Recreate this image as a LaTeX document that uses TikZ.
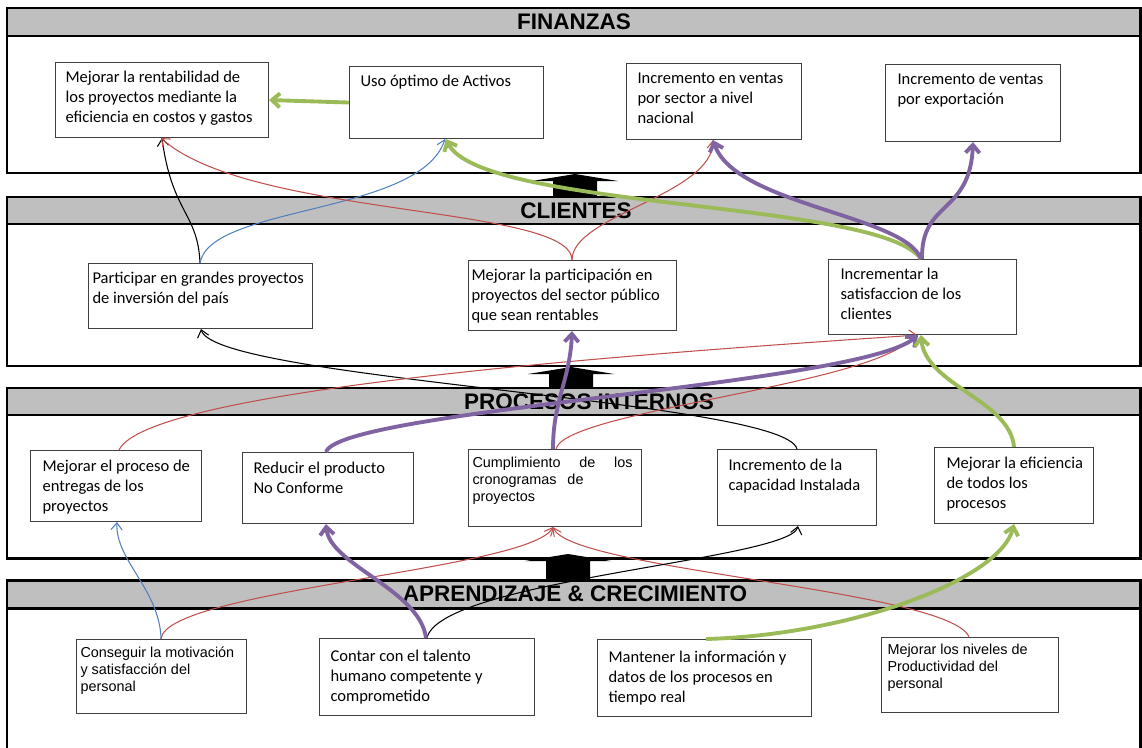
\documentclass[tikz,border=0pt]{standalone}
\usepackage{fontspec}
\setmainfont{Carlito}
\newfontfamily\arialf{Liberation Sans}
\usetikzlibrary{arrows.meta}

\newdimen\pxu
\pxu=0.02cm
% text block in the upper left corner of an objective box
\newcommand{\objtext}[3]{\parbox[t][#2\pxu][t]{#1\pxu}{\begin{tabular}[t]{@{}l@{}}#3\end{tabular}}}

\definecolor{headgray}{HTML}{BFBFBF}
\definecolor{boxline}{HTML}{404040}
\definecolor{linkred}{HTML}{C0504D}
\definecolor{linkblue}{HTML}{4F81BD}
\definecolor{linkpurple}{HTML}{8064A2}
\definecolor{linkgreen}{HTML}{9BBB59}

\tikzset{
    band/.style={line width=1.7pt},
    bandtitle/.style={font=\arialf\bfseries\fontsize{12.8}{15}\selectfont},
    obj/.style={draw=boxline, line width=0.6pt, fill=white, anchor=north west,
        inner xsep=11\pxu, inner ysep=6\pxu, font=\fontsize{9.4}{11.4}\selectfont},
    objarial/.style={obj, font=\arialf\fontsize{8.2}{9.6}\selectfont},
    thinlink/.style={line width=0.6pt, -{Straight Barb[length=4pt,width=6.5pt]}},
    thicklink/.style={line width=2.2pt, -{Straight Barb[length=4.5pt,width=8pt]}},
    redlink/.style={thinlink, draw=linkred},
    bluelink/.style={thinlink, draw=linkblue},
    blacklink/.style={thinlink, draw=black},
    purplelink/.style={thicklink, draw=linkpurple},
    greenlink/.style={thicklink, draw=linkgreen}
}

\begin{document}
\begin{tikzpicture}[x=0.02cm, y=-0.02cm]
    \useasboundingbox (0,0) rectangle (1142,747);

    % perspectives
    \foreach \ytop/\yhead/\ybot/\xc/\bandname [count=\i] in
        {8/36/173/574/FINANZAS, 197/224/366/576/CLIENTES,
         388/415/558/589/PROCESOS INTERNOS, 580/608/760/575/APRENDIZAJE \& CRECIMIENTO} {
        \fill[headgray] (7,\ytop) rectangle (1140,\yhead);
        \draw[band] (7,\ytop) rectangle (1140,\ybot);
        \draw[band] (7,\yhead) -- (1140,\yhead);
        \node[bandtitle] (titulo\i) at (\xc,{(\ytop+\yhead)/2}) {\bandname};
    }

    % block arrows between the perspectives
    \foreach \xc/\ytip/\ybot in {575/174/197, 571/367/388, 568/554/580} {
        \fill (\xc-22,\ybot) -- (\xc-22,\ytip+7) -- (\xc-43,\ytip+7) -- (\xc,\ytip)
            -- (\xc+43,\ytip+7) -- (\xc+22,\ytip+7) -- (\xc+22,\ybot) -- cycle;
    }

    % finanzas
    \node[obj, inner xsep=10\pxu] (rentabilidad) at (55,62) {\objtext{193}{63}{Mejorar la rentabilidad de\\los proyectos mediante la\\eficiencia en costos y gastos}};
    \node[obj] (activos) at (349,66) {\objtext{172}{60}{Uso óptimo de Activos}};
    \node[obj] (ventasnac) at (626,63) {\objtext{153}{64}{Incremento en ventas\\por sector a nivel\\nacional}};
    \node[obj, inner xsep=12\pxu] (exportacion) at (885,64) {\objtext{151}{65}{Incremento de ventas\\por exportación}};

    % clientes
    \node[obj, inner xsep=4\pxu] (grandes) at (88,263) {\objtext{216}{53}{Participar en grandes proyectos\\de inversión del país}};
    \node[obj, inner xsep=3\pxu] (publico) at (468,260) {\objtext{202}{58}{Mejorar la participación en\\proyectos del sector público\\que sean rentables}};
    \node[obj, inner xsep=12\pxu] (satisfaccion) at (828,259) {\objtext{164}{63}{Incrementar la\\satisfaccion de los\\clientes}};

    % procesos internos
    \node[obj, inner xsep=12\pxu, inner ysep=7\pxu] (entregas) at (30,450) {\objtext{147}{57}{Mejorar el proceso de\\entregas de los\\proyectos}};
    \node[obj, inner ysep=7\pxu] (noconforme) at (242,452) {\objtext{149}{57}{Reducir el producto\\No Conforme}};
    \node[objarial, inner xsep=4\pxu] (cronogramas) at (468,449) {\objtext{165}{65}{\makebox[160\pxu][s]{Cumplimiento de los}\\\makebox[111\pxu][s]{cronogramas de}\\proyectos}};
    \node[obj, inner ysep=7\pxu] (capacidad) at (717,449) {\objtext{137}{62}{Incremento de la\\capacidad Instalada}};
    \node[obj, inner xsep=12\pxu, inner ysep=7\pxu] (eficiencia) at (934,447) {\objtext{135}{62}{Mejorar la eficiencia\\de todos los\\procesos}};

    % aprendizaje y crecimiento
    \node[objarial, inner xsep=4\pxu] (motivacion) at (76,639) {\objtext{162}{62}{Conseguir la motivación\\y satisfacción del\\personal}};
    \node[obj, inner ysep=9\pxu] (talento) at (319,638) {\objtext{193}{59}{Contar con el talento\\humano competente y\\comprometido}};
    \node[obj, inner ysep=9\pxu] (informacion) at (597,639) {\objtext{192}{59}{Mantener la información y\\datos de los procesos en\\tiempo real}};
    \node[objarial, inner xsep=6\pxu, inner ysep=5\pxu] (productividad) at (881,637) {\objtext{165}{65}{Mejorar los niveles de\\Productividad del\\personal}};

    % links inside finanzas
    \draw[greenlink] (activos.west) -- (rentabilidad.east);

    % clientes -> finanzas
    \draw[blacklink] (grandes.north -| 200,0) .. controls (198,213) and (172,213) .. (rentabilidad.south -| 162,0);
    \draw[bluelink] (grandes.north -| 200,0) .. controls (210,205) and (420,215) .. (activos.south -| 445,0);
    \draw[redlink] (publico.north -| 572,0) .. controls (572,205) and (250,218) .. (rentabilidad.south -| 161,0);
    \draw[redlink] (publico.north -| 572,0) .. controls (572,215) and (713,195) .. (ventasnac.south -| 713,0);
    \draw[greenlink] (satisfaccion.north -| 921,0) .. controls (880,200) and (480,210) .. (activos.south -| 446,0);
    \draw[purplelink] (satisfaccion.north -| 921,0) .. controls (905,215) and (735,205) .. (ventasnac.south -| 713,0);
    \draw[purplelink] (satisfaccion.north -| 922,0) .. controls (921,200) and (970,215) .. (exportacion.south -| 973,0);

    % procesos -> clientes
    \draw[blacklink] (capacidad.north -| 797,0) .. controls (785,400) and (215,380) .. (grandes.south -| 201,0);
    \draw[redlink] (entregas.north -| 119,0) .. controls (150,385) and (700,350) .. (satisfaccion.south -| 917,0);
    \draw[redlink] (cronogramas.north -| 556,0) .. controls (565,410) and (880,385) .. (satisfaccion.south -| 914,0);
    \draw[purplelink] (noconforme.north -| 326,0) .. controls (340,410) and (860,385) .. (satisfaccion.south -| 918,0);
    \draw[purplelink] (cronogramas.north -| 553,0) .. controls (553,400) and (570,380) .. (publico.south -| 572,0);
    \draw[greenlink] (eficiencia.north -| 1014,0) .. controls (1010,400) and (925,385) .. (satisfaccion.south -| 921,0);

    % aprendizaje -> procesos
    \draw[bluelink] (motivacion.north -| 161,0) .. controls (160,590) and (115,560) .. (entregas.south -| 117,0);
    \draw[redlink] (motivacion.north -| 161,0) .. controls (165,590) and (530,570) .. (cronogramas.south -| 553,0);
    \draw[redlink] (productividad.north -| 969,0) .. controls (950,590) and (570,570) .. (cronogramas.south -| 553,0);
    \draw[blacklink] (talento.north -| 427,0) .. controls (440,580) and (790,560) .. (capacidad.south -| 798,0);
    \draw[purplelink] (talento.north -| 426,0) .. controls (420,590) and (330,565) .. (noconforme.south -| 326,0);
    \draw[greenlink] (informacion.north -| 706,0) .. controls (850,635) and (1000,580) .. (eficiencia.south -| 1014,0);
\end{tikzpicture}
\end{document}
